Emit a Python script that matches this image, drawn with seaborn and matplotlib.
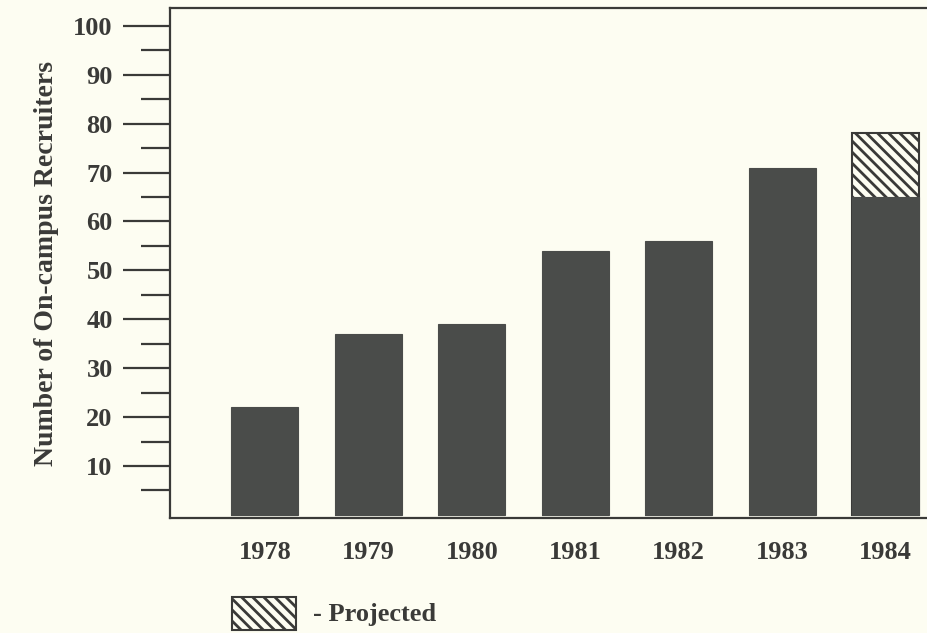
"""
Recrutadores no campus por ano (gráfico de barras com valor projetado).
"""

import numpy as np
import pandas as pd
import matplotlib.pyplot as plt
import seaborn as sns
from matplotlib.patches import Rectangle
from matplotlib.ticker import FixedLocator

# dados
years = ["1978", "1979", "1980", "1981", "1982", "1983", "1984"]
actual = [22, 37, 39, 54, 56, 71, 65]
projected = [0, 0, 0, 0, 0, 0, 78]

y_ticks = [10, 20, 30, 40, 50, 60, 70, 80, 90, 100]
y_minor = [5, 15, 25, 35, 45, 55, 65, 75, 85, 95]
y_label = "Number of On-campus Recruiters"
legend_text = "- Projected"

BG = "#fdfdf2"
BAR = "#4a4c4a"
INK = "#3a3a38"

sns.set_style("white")
plt.rcParams['font.family'] = ['Liberation Serif', 'DejaVu Serif']
plt.rcParams['font.weight'] = 'bold'
plt.rcParams['hatch.linewidth'] = 2.0
plt.rcParams['hatch.color'] = INK

df = pd.DataFrame({"year": years, "actual": actual, "projected": projected})

fig = plt.figure(figsize=(9.27, 6.33), dpi=100, facecolor=BG)
ax = fig.add_axes([0.183, 0.182, 0.817, 0.805], facecolor=BG)

# barra projetada (hachurada) por baixo
sns.barplot(data=df, x="year", y="projected", order=years, color=BG,
            width=0.65, edgecolor=INK, linewidth=1.5, hatch="\\\\\\",
            saturation=1, ax=ax)
# barras reais por cima
sns.barplot(data=df, x="year", y="actual", order=years, color=BAR,
            width=0.65, edgecolor=BAR, linewidth=0.8, saturation=1, ax=ax)

ax.set_xlim(-0.92, 6.4)
ax.set_ylim(-0.6, 103.6)

ax.yaxis.set_major_locator(FixedLocator(y_ticks))
ax.yaxis.set_minor_locator(FixedLocator(y_minor))
ax.tick_params(axis="y", which="major", length=34, width=1.6, color=INK,
               pad=7, labelsize=19, labelcolor=INK, left=True)
ax.tick_params(axis="y", which="minor", length=21, width=1.6, color=INK,
               left=True)
ax.tick_params(axis="x", length=0, pad=17, labelsize=19, labelcolor=INK)

for lab in ax.get_xticklabels() + ax.get_yticklabels():
    lab.set_fontweight("bold")

ax.set_xlabel("")
ax.set_ylabel(y_label, fontsize=20, fontweight="bold", color=INK, labelpad=10)

for side in ["left", "top", "bottom"]:
    ax.spines[side].set_visible(True)
    ax.spines[side].set_linewidth(1.6)
    ax.spines[side].set_color(INK)
ax.spines["right"].set_visible(False)

# legenda manual
fig.patches.append(Rectangle((232 / 927, 1 - 630 / 633), 64 / 927, 33 / 633,
                             transform=fig.transFigure, facecolor=BG,
                             edgecolor=INK, linewidth=1.5, hatch="\\\\\\"))
fig.text(313 / 927, 1 - 615 / 633, legend_text, fontsize=19,
         fontweight="bold", color=INK, va="center", ha="left")

fig.savefig("out.png", dpi=100, facecolor=BG)
